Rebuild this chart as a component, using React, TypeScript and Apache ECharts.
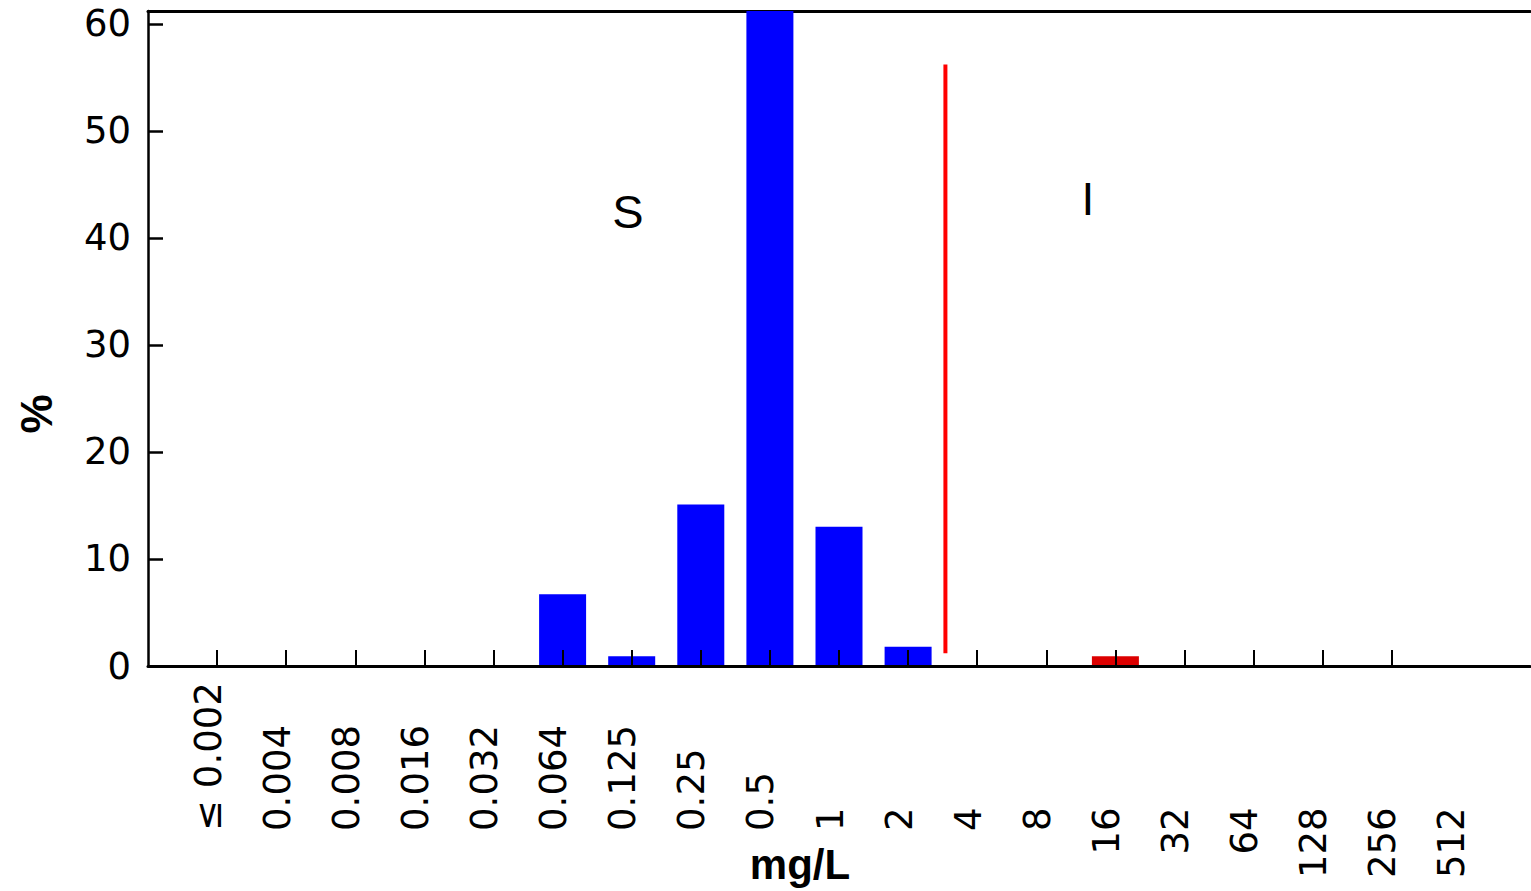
import React, { useEffect, useRef } from "react";
import * as echarts from "echarts";

// MIC categories (mg/L)
const categories = [
  "≤ 0.002", "0.004", "0.008", "0.016", "0.032", "0.064", "0.125", "0.25", "0.5",
  "1", "2", "4", "8", "16", "32", "64", "128", "256", "512",
];
// Percentage of isolates per category
const percentValues = [
  0, 0, 0, 0, 0, 6.7, 0.9, 15.1, 61.6, 13.0, 1.8, 0, 0, 0.9, 0, 0, 0, 0, 0,
];
// last category index counted as susceptible (S)
const susceptibleLastIndex = 10;
// breakpoint line (x in category index units, y in %)
const breakpointLine: [number, number][] = [
  [10.54, 56.2],
  [10.54, 1.2],
];
const yTicks = [0, 10, 20, 30, 40, 50, 60];
const yMax = 61.2;

const BLUE = "#0000ff";
const RED = "#dc0000";

function padLabel(s: string): string {
  const FS = "\u2007";
  if (/^\d+$/.test(s)) return FS.repeat(Math.max(0, 3 - s.length)) + s;
  return FS + FS + s;
}

export default function App() {
  const ref = useRef<HTMLDivElement>(null);
  useEffect(() => {
    if (!ref.current) return;
    const chart = echarts.init(ref.current, undefined, { renderer: "svg" });
    const idx = categories.map((_, i) => i);
    const barData = percentValues.map((v, i) => ({
      value: [i, v],
      itemStyle: { color: i <= susceptibleLastIndex ? BLUE : RED },
    }));
    const labelFont = "DejaVu Sans";
    chart.setOption({
      animation: false,
      backgroundColor: "#ffffff",
      grid: { left: 148, right: 1, top: 11, bottom: 225, containLabel: false },
      xAxis: [
        {
          type: "value",
          min: -1,
          max: categories.length,
          z: 10,
          splitLine: { show: false },
          axisLine: { show: true, onZero: false, lineStyle: { color: "#000", width: 3 } },
          axisTick: {
            show: true,
            inside: true,
            length: 16,
            customValues: idx.slice(0, categories.length - 1),
            lineStyle: { color: "#000", width: 2 },
          },
          axisLabel: {
            show: true,
            customValues: idx,
            rotate: 90,
            align: "left",
            verticalAlign: "bottom",
            lineHeight: 18,
            margin: 212,
            fontFamily: labelFont,
            fontSize: 37,
            color: "#000",
            formatter: (v: number) => padLabel(categories[Math.round(v)] ?? ""),
          },
        },
        {
          type: "value",
          position: "top",
          min: -1,
          max: categories.length,
          splitLine: { show: false },
          axisLine: { show: true, onZero: false, lineStyle: { color: "#000", width: 3 } },
          axisTick: { show: false },
          axisLabel: { show: false },
        },
      ],
      yAxis: {
        type: "value",
        min: 0,
        max: yMax,
        z: 10,
        splitLine: { show: false },
        axisLine: { show: true, onZero: false, lineStyle: { color: "#000", width: 2.5 } },
        axisTick: {
          show: true,
          inside: true,
          length: 15,
          customValues: yTicks,
          lineStyle: { color: "#000", width: 2.5 },
        },
        axisLabel: {
          show: true,
          customValues: yTicks,
          margin: 17,
          fontFamily: labelFont,
          fontSize: 37,
          color: "#000",
        },
      },
      series: [
        {
          type: "bar",
          data: barData,
          barWidth: 47,
          z: 2,
        },
        {
          type: "line",
          data: breakpointLine,
          symbol: "none",
          lineStyle: { color: "#ff0000", width: 4 },
          z: 5,
        },
      ],
      graphic: [
        {
          type: "text",
          x: 628,
          y: 211,
          style: {
            text: "S",
            fontFamily: "Liberation Sans",
            fontSize: 47,
            fill: "#000",
            textAlign: "center",
            textVerticalAlign: "middle",
          },
        },
        {
          type: "text",
          x: 1088,
          y: 199,
          style: {
            text: "I",
            fontFamily: "Liberation Sans",
            fontSize: 46,
            fill: "#000",
            textAlign: "center",
            textVerticalAlign: "middle",
          },
        },
        {
          type: "text",
          x: 800,
          y: 864,
          style: {
            text: "mg/L",
            fontFamily: "Liberation Sans",
            fontWeight: "bold",
            fontSize: 42,
            fill: "#000",
            textAlign: "center",
            textVerticalAlign: "middle",
          },
        },
        {
          type: "text",
          x: 36,
          y: 414,
          rotation: Math.PI / 2,
          style: {
            text: "%",
            fontFamily: "Liberation Sans",
            fontWeight: "bold",
            fontSize: 44,
            fill: "#000",
            textAlign: "center",
            textVerticalAlign: "middle",
          },
        },
      ],
    });
    return () => chart.dispose();
  }, []);
  return (
    <div
      ref={ref}
      style={{ position: "absolute", left: 0, top: 0, width: 1531, height: 891 }}
    />
  );
}
